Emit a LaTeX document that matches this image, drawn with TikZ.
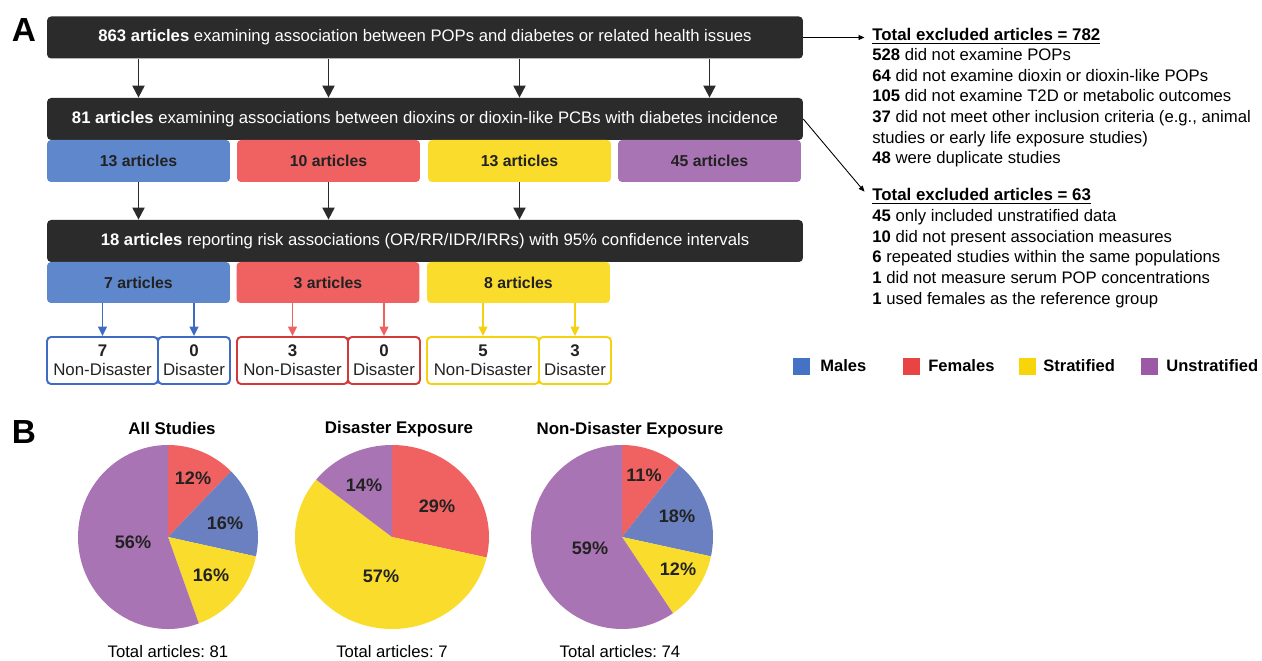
\documentclass[tikz,border=0pt]{standalone}
\usepackage{fontspec}
\setmainfont{Liberation Sans}
\usetikzlibrary{arrows.meta}

\definecolor{boxdark}{HTML}{2B2B2B}
\definecolor{txtdark}{HTML}{222222}
\definecolor{mblue}{HTML}{5F87CC}
\definecolor{fred}{HTML}{F06262}
\definecolor{syel}{HTML}{F9DC2C}
\definecolor{upur}{HTML}{A974B4}
\definecolor{oblue}{HTML}{3F6BC4}
\definecolor{ored}{HTML}{D03A3A}
\definecolor{oyel}{HTML}{F5D20F}
\definecolor{lblue}{HTML}{4472C4}
\definecolor{lred}{HTML}{E84444}
\definecolor{lyel}{HTML}{F8D40A}
\definecolor{lpur}{HTML}{9B59A6}
\definecolor{pblue}{HTML}{6A80C0}

\begin{document}
\frenchspacing
\begin{tikzpicture}[x=0.02cm, y=0.02cm,
    >={Triangle[length=2.4mm,width=2.4mm]},
    darkbox/.style={fill=boxdark, rounded corners=0.8mm, minimum width=15.12cm,
      minimum height=0.84cm, text=white, font=\fontsize{9.5}{12}\selectfont},
    catbox/.style={fill=#1, rounded corners=0.8mm, minimum width=3.66cm,
      minimum height=0.84cm, text=txtdark, font=\bfseries\fontsize{9}{11}\selectfont},
    splitbox/.style={draw=#1, line width=1.1pt, rounded corners=0.8mm, minimum height=0.94cm,
      align=center, inner sep=0pt, text=txtdark, font=\fontsize{9.6}{10.8}\selectfont},
    blkarrow/.style={->, line width=1.1pt, draw=boxdark},
    colarrow/.style={-{Triangle[length=1.9mm,width=1.8mm]}, line width=0.9pt, draw=#1},
    thinarrow/.style={-{Triangle[length=1.2mm,width=1mm]}, line width=0.5pt},
    extitle/.style={anchor=base west, inner sep=0pt, font=\bfseries\fontsize{9.6}{11}\selectfont},
    exlist/.style={anchor=north west, inner sep=0pt, align=left, font=\fontsize{9.5}{11.75}\selectfont},
    legsq/.style={fill=#1, minimum size=0.34cm, inner sep=0pt},
    leglabel/.style={anchor=west, inner sep=0pt, font=\bfseries\fontsize{9.4}{11}\selectfont},
    pct/.style={text=txtdark, font=\bfseries\fontsize{10.3}{12}\selectfont},
    pietitle/.style={font=\bfseries\fontsize{9.6}{12}\selectfont},
    piecap/.style={font=\fontsize{9.5}{12}\selectfont},
    panel/.style={font=\bfseries\fontsize{19}{22}\selectfont}
  ]
  \useasboundingbox (0,0) rectangle (1262,-661);

  % Panel A: flow of article selection
  \node[panel] (pA) at (24,-30) {A};
  \node[darkbox] (box1) at (425,-37.5) {\textbf{863 articles} examining association between POPs and diabetes or related health issues};
  \node[darkbox] (box2) at (425,-119) {\textbf{81 articles} examining associations between dioxins or dioxin-like PCBs with diabetes incidence};

  \node[catbox=mblue] (m13) at (138.5,-161) {13 articles};
  \node[catbox=fred] (f10) at (328.5,-161) {10 articles};
  \node[catbox=syel] (s13) at (519.5,-161) {13 articles};
  \node[catbox=upur] (u45) at (709.5,-161) {45 articles};

  \node[darkbox] (box3) at (425,-241) {\textbf{18 articles} reporting risk associations (OR/RR/IDR/IRRs) with 95\% confidence intervals};

  \node[catbox=mblue, minimum height=0.82cm] (m7) at (138.5,-282.5) {7 articles};
  \node[catbox=fred, minimum height=0.82cm] (f3) at (328,-282.5) {3 articles};
  \node[catbox=syel, minimum height=0.82cm] (s8) at (518.5,-282.5) {8 articles};

  \node[splitbox=oblue, minimum width=2.22cm] (mnd) at (102.5,-360.5) {\textbf{7}\\Non-Disaster};
  \node[splitbox=oblue, minimum width=1.44cm] (md) at (194,-360.5) {\textbf{0}\\Disaster};
  \node[splitbox=ored, minimum width=2.22cm] (fnd) at (292.5,-360.5) {\textbf{3}\\Non-Disaster};
  \node[splitbox=ored, minimum width=1.44cm] (fd) at (384,-360.5) {\textbf{0}\\Disaster};
  \node[splitbox=oyel, minimum width=2.24cm] (snd) at (483,-360.5) {\textbf{5}\\Non-Disaster};
  \node[splitbox=oyel, minimum width=1.44cm] (sd) at (575,-360.5) {\textbf{3}\\Disaster};

  % Arrows
  \foreach \c in {m13,f10,s13,u45}
    \draw[blkarrow] (box1.south -| \c) -- (box2.north -| \c);
  \foreach \c in {m13,f10,s13}
    \draw[blkarrow] (\c.south) -- (box3.north -| \c);
  \draw[colarrow=oblue] (m7.south -| mnd) -- (mnd.north);
  \draw[colarrow=oblue] (m7.south -| md) -- (md.north);
  \draw[colarrow=fred] (f3.south -| fnd) -- (fnd.north);
  \draw[colarrow=fred] (f3.south -| fd) -- (fd.north);
  \draw[colarrow=oyel] (s8.south -| snd) -- (snd.north);
  \draw[colarrow=oyel] (s8.south -| sd) -- (sd.north);

  % Exclusions
  \node[extitle] (ex1) at (872,-41) {\underline{Total excluded articles = 782}};
  \node[exlist] (ex1list) at (872,-48) {\textbf{528} did not examine POPs\\
    \textbf{64} did not examine dioxin or dioxin-like POPs\\
    \textbf{105} did not examine T2D or metabolic outcomes\\
    \textbf{37} did not meet other inclusion criteria (e.g., animal\\
    studies or early life exposure studies)\\
    \textbf{48} were duplicate studies};
  \node[extitle] (ex2) at (872,-201) {\underline{Total excluded articles = 63}};
  \node[exlist] (ex2list) at (872,-209) {\textbf{45} only included unstratified data\\
    \textbf{10} did not present association measures\\
    \textbf{6} repeated studies within the same populations\\
    \textbf{1} did not measure serum POP concentrations\\
    \textbf{1} used females as the reference group};
  \draw[thinarrow] (box1.east) -- ([xshift=-1.5mm]box1.east -| ex1.west);
  \draw[thinarrow] (box2.east) -- ([xshift=-1.5mm,yshift=1mm]ex2.west);

  % Legend
  \node[legsq=lblue] (lgm) at (801,-366.5) {};
  \node[leglabel] (lgmt) at (820,-366) {Males};
  \node[legsq=lred] (lgf) at (911,-366.5) {};
  \node[leglabel] (lgft) at (928,-366) {Females};
  \node[legsq=lyel] (lgs) at (1027,-366.5) {};
  \node[leglabel] (lgst) at (1043,-366) {Stratified};
  \node[legsq=lpur] (lgu) at (1149,-366.5) {};
  \node[leglabel] (lgut) at (1166,-366) {Unstratified};

  % Panel B: pie charts
  \node[panel] (pB) at (24,-432) {B};
  \coordinate (pa) at (168,-537);
  \coordinate (pb) at (392,-537);
  \coordinate (pc) at (622,-537);

  \foreach \col/\a/\b in {fred/90/45.56, pblue/45.56/-12.22, syel/-12.22/-70, upur/-70/-270}
    \fill[\col] (pa) -- ++(\a:90 and 92) arc[start angle=\a, end angle=\b, x radius=90, y radius=92] -- cycle;
  \foreach \col/\a/\b in {fred/90/-12.86, syel/-12.86/-218.57, upur/-218.57/-270}
    \fill[\col] (pb) -- ++(\a:97 and 92) arc[start angle=\a, end angle=\b, x radius=97, y radius=92] -- cycle;
  \foreach \col/\a/\b in {fred/90/51.08, pblue/51.08/-12.16, syel/-12.16/-55.95, upur/-55.95/-270}
    \fill[\col] (pc) -- ++(\a:91 and 92) arc[start angle=\a, end angle=\b, x radius=91, y radius=92] -- cycle;

  \node[pct] (pa1) at (193,-478) {12\%};
  \node[pct] (pa2) at (225,-523) {16\%};
  \node[pct] (pa3) at (211,-575) {16\%};
  \node[pct] (pa4) at (133,-542) {56\%};
  \node[pct] (pb1) at (437,-506) {29\%};
  \node[pct] (pb2) at (381,-576) {57\%};
  \node[pct] (pb3) at (364,-485) {14\%};
  \node[pct] (pc1) at (644,-475) {11\%};
  \node[pct] (pc2) at (677,-516) {18\%};
  \node[pct] (pc3) at (678,-569) {12\%};
  \node[pct] (pc4) at (590,-548) {59\%};

  \node[pietitle] (ta) at (172,-428) {All Studies};
  \node[pietitle] (tb) at (399,-429) {Disaster Exposure};
  \node[pietitle] (tc) at (630,-430) {Non-Disaster Exposure};
  \node[piecap] (ca) at (168,-652) {Total articles: 81};
  \node[piecap] (cb) at (392,-652) {Total articles: 7};
  \node[piecap] (cc) at (620,-652) {Total articles: 74};
\end{tikzpicture}
\end{document}
